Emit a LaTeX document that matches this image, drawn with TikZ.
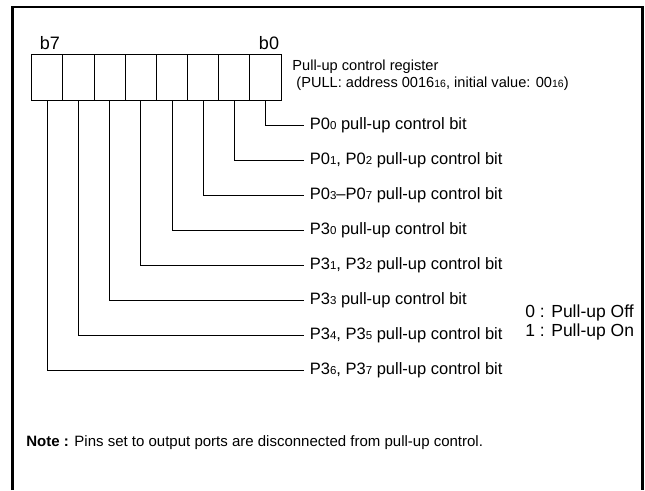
\documentclass[tikz,border=0pt]{standalone}
\usepackage{fontspec}
\setmainfont{Liberation Sans}
\usetikzlibrary{positioning}
\newcommand{\lo}[1]{{\fontsize{11.5}{11.5}\selectfont #1}}
\newcommand{\los}[1]{{\fontsize{10.5}{10.5}\selectfont #1}}

\begin{document}
\begin{tikzpicture}[x=1pt, y=-1pt, line width=0.8pt,
    cell/.style={draw, minimum width=31.16pt, minimum height=46pt, inner sep=0pt, outer sep=0pt},
    bitlbl/.style={anchor=west, inner xsep=5.5pt, inner ysep=0pt, font=\fontsize{16.5}{18}\selectfont},
    sidelbl/.style={font=\fontsize{17.5}{19}\selectfont}]
                \useasboundingbox (0,0) rectangle (645,490);
                \draw[line width=2.4pt] (12.5,490) -- (12.5,7) -- (642.5,7) -- (642.5,490);

                % register cells, b7 on the left
                \node[cell] (c7) at (47.3,77.5) {};
                \node[cell, right=0pt of c7] (c6) {};
                \node[cell, right=0pt of c6] (c5) {};
                \node[cell, right=0pt of c5] (c4) {};
                \node[cell, right=0pt of c4] (c3) {};
                \node[cell, right=0pt of c3] (c2) {};
                \node[cell, right=0pt of c2] (c1) {};
                \node[cell, right=0pt of c1] (c0) {};

                \node[font=\fontsize{18}{20}\selectfont, inner sep=0pt] (b7) at (50,43) {b7};
                \node[font=\fontsize{18}{20}\selectfont, inner sep=0pt] (b0) at (269,43) {b0};

                \node[anchor=west, align=left, inner sep=0pt, font=\fontsize{14.6}{16.5}\selectfont] (reg) at (292,75)
                    {Pull-up control register\\\hspace*{4pt}(PULL: address 0016\los{16}, initial value: 00\los{16})};

                \node[bitlbl] (l0) at (304,125) {P0\lo{0} pull-up control bit};
                \node[bitlbl] (l1) at (304,160) {P0\lo{1}, P0\lo{2} pull-up control bit};
                \node[bitlbl] (l2) at (304,195) {P0\lo{3}--P0\lo{7} pull-up control bit};
                \node[bitlbl] (l3) at (304,230) {P3\lo{0} pull-up control bit};
                \node[bitlbl] (l4) at (304,265) {P3\lo{1}, P3\lo{2} pull-up control bit};
                \node[bitlbl] (l5) at (304,300) {P3\lo{3} pull-up control bit};
                \node[bitlbl] (l6) at (304,335) {P3\lo{4}, P3\lo{5} pull-up control bit};
                \node[bitlbl] (l7) at (304,370) {P3\lo{6}, P3\lo{7} pull-up control bit};

                \draw (c0.south) |- (l0.west);
                \draw (c1.south) |- (l1.west);
                \draw (c2.south) |- (l2.west);
                \draw (c3.south) |- (l3.west);
                \draw (c4.south) |- (l4.west);
                \draw (c5.south) |- (l5.west);
                \draw (c6.south) |- (l6.west);
                \draw (c7.south) |- (l7.west);

                \node[sidelbl, anchor=west, align=left, inner sep=0pt] (val) at (525,322)
                    {0 : Pull-up Off\\1 : Pull-up On};

                \node[anchor=west, inner sep=0pt, font=\fontsize{15}{17}\selectfont] (note) at (26,443)
                    {\textbf{Note :} Pins set to output ports are disconnected from pull-up control.};
            \end{tikzpicture}
\end{document}
